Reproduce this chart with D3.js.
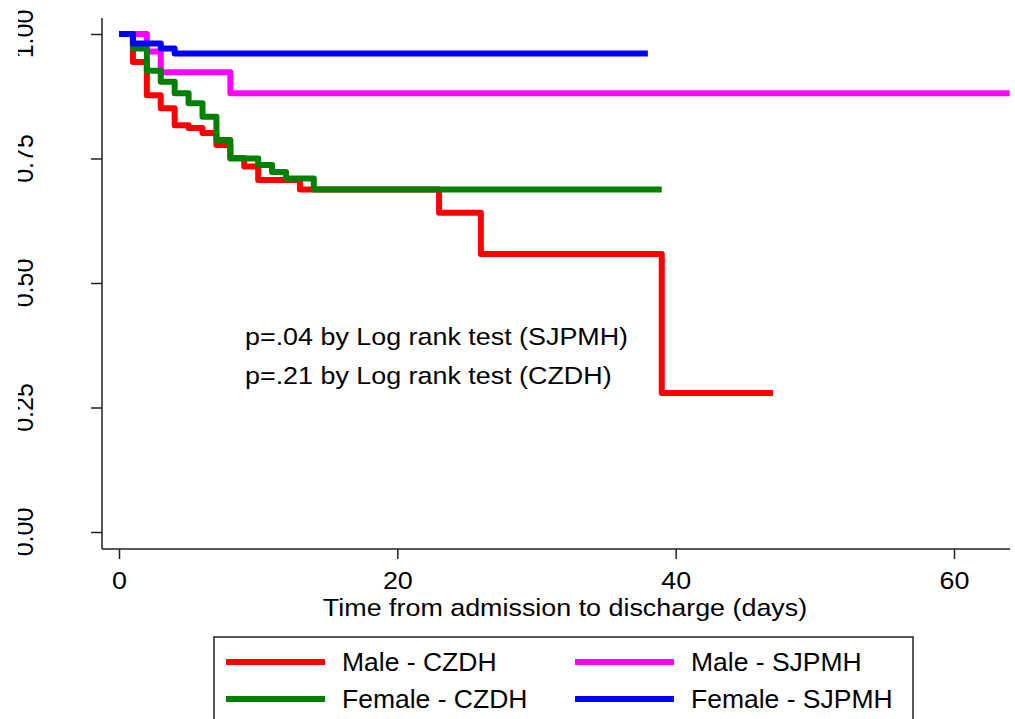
<!DOCTYPE html>
<html>
<head>
<meta charset="utf-8">
<script src="https://cdn.jsdelivr.net/npm/d3@7"></script>
<style>
  body { margin: 0; background: #fff; }
  svg text { font-family: "Liberation Sans", Arial, sans-serif; fill: #000; }
</style>
</head>
<body>
<script>
var width = 1015,
    height = 719;

// groups, in legend order
var groups = ["Male - CZDH", "Male - SJPMH", "Female - CZDH", "Female - SJPMH"];
var colors = ["#ff0000", "#ff00ff", "#008000", "#0000ff"];

// Kaplan-Meier steps (days, survival)
var maleCZDHTime = [0, 1, 2, 3, 4, 5, 6, 7, 8, 9, 10, 13, 23, 26, 39, 47];
var maleCZDHSurv = [1, 0.944, 0.877, 0.851, 0.817, 0.811, 0.801, 0.777, 0.751, 0.734, 0.707, 0.688, 0.641, 0.558, 0.279, 0.279];

var maleSJPMHTime = [0, 2, 3, 8, 64];
var maleSJPMHSurv = [1, 0.965, 0.923, 0.881, 0.881];

var femaleCZDHTime = [0, 1, 2, 3, 4, 5, 6, 7, 8, 10, 11, 12, 14, 39];
var femaleCZDHSurv = [1, 0.971, 0.926, 0.904, 0.881, 0.861, 0.834, 0.787, 0.750, 0.737, 0.723, 0.710, 0.688, 0.688];

var femaleSJPMHTime = [0, 1, 3, 4, 38];
var femaleSJPMHSurv = [1, 0.981, 0.971, 0.961, 0.961];

var xTicks = [0, 20, 40, 60];
var yTicks = [0, 0.25, 0.5, 0.75, 1];
var yTickLabels = ["0.00", "0.25", "0.50", "0.75", "1.00"];

var notes = ["p=.04 by Log rank test (SJPMH)", "p=.21 by Log rank test (CZDH)"];
var xTitle = "Time from admission to discharge (days)";

var series = [
  { name: groups[0], color: colors[0], t: maleCZDHTime, s: maleCZDHSurv },
  { name: groups[1], color: colors[1], t: maleSJPMHTime, s: maleSJPMHSurv },
  { name: groups[2], color: colors[2], t: femaleCZDHTime, s: femaleCZDHSurv },
  { name: groups[3], color: colors[3], t: femaleSJPMHTime, s: femaleSJPMHSurv }
];

var svg = d3.select("body").append("svg").attr("width", width).attr("height", height);

var x = d3.scaleLinear().domain([0, 60]).range([119, 954]);
var y = d3.scaleLinear().domain([0, 1]).range([532, 34]);

var axisLeft = 102, axisBottom = 549;

// axis lines
svg.append("line")
    .attr("x1", axisLeft).attr("x2", axisLeft)
    .attr("y1", 18).attr("y2", axisBottom)
    .attr("stroke", "#222").attr("stroke-width", 1.5);
svg.append("line")
    .attr("x1", axisLeft).attr("x2", 1010)
    .attr("y1", axisBottom).attr("y2", axisBottom)
    .attr("stroke", "#222").attr("stroke-width", 1.5);

// x axis
var gx = svg.append("g")
    .attr("transform", "translate(0," + axisBottom + ")")
    .call(d3.axisBottom(x).tickValues(xTicks).tickSize(10).tickSizeOuter(0));
gx.select(".domain").remove();
gx.selectAll("line").attr("stroke", "#222").attr("stroke-width", 1.5);
gx.selectAll("text")
    .attr("y", null).attr("dy", null)
    .attr("transform", "translate(0,40) scale(1.12,1)")
    .style("font-size", "24px");

// y axis with rotated labels, cut off at the left edge
svg.append("clipPath").attr("id", "ylab-clip")
  .append("rect").attr("x", 18).attr("y", 0).attr("width", 90).attr("height", height);

var gy = svg.append("g")
    .attr("transform", "translate(" + axisLeft + ",0)")
    .call(d3.axisLeft(y).tickValues(yTicks).tickSize(11).tickSizeOuter(0)
      .tickFormat(function(d, i) { return yTickLabels[i]; }));
gy.select(".domain").remove();
gy.selectAll("line").attr("stroke", "#222").attr("stroke-width", 1.5);
gy.selectAll("text").remove();

svg.append("g").attr("clip-path", "url(#ylab-clip)")
  .selectAll("text")
  .data(yTicks)
  .enter().append("text")
    .attr("transform", function(d) { return "translate(33," + y(d) + ") rotate(-90)"; })
    .attr("text-anchor", "middle")
    .style("font-size", "25px")
    .text(function(d, i) { return yTickLabels[i]; });

// curves
var line = d3.line()
    .curve(d3.curveStepAfter)
    .x(function(d) { return x(d[0]); })
    .y(function(d) { return y(d[1]); });

svg.append("g").selectAll("path")
  .data(series)
  .enter().append("path")
    .attr("d", function(d) { return line(d3.zip(d.t, d.s)); })
    .attr("fill", "none")
    .attr("stroke", function(d) { return d.color; })
    .attr("stroke-width", 6)
    .attr("stroke-linejoin", "round");

// annotations
svg.append("g").selectAll("text")
  .data(notes)
  .enter().append("text")
    .attr("transform", function(d, i) { return "translate(245," + (345 + i * 39) + ") scale(1.12,1)"; })
    .style("font-size", "24px")
    .text(function(d) { return d; });

// x title
svg.append("text")
    .attr("transform", "translate(565,616) scale(1.12,1)")
    .attr("text-anchor", "middle")
    .style("font-size", "24px")
    .text(xTitle);

// legend
var legend = svg.append("g");
legend.append("rect")
    .attr("x", 214).attr("y", 637)
    .attr("width", 699).attr("height", 120)
    .attr("fill", "none").attr("stroke", "#222").attr("stroke-width", 1.5);

var item = legend.selectAll(".item")
  .data(series)
  .enter().append("g")
    .attr("class", "item")
    .attr("transform", function(d, i) {
      return "translate(" + (i % 2 === 0 ? 226 : 575) + "," + (i < 2 ? 662 : 699) + ")";
    });

item.append("line")
    .attr("x1", 0).attr("x2", 99)
    .attr("stroke", function(d) { return d.color; })
    .attr("stroke-width", 6);

item.append("text")
    .attr("transform", "translate(116,9) scale(1.06,1)")
    .style("font-size", "25px")
    .text(function(d) { return d.name; });
</script>
</body>
</html>
